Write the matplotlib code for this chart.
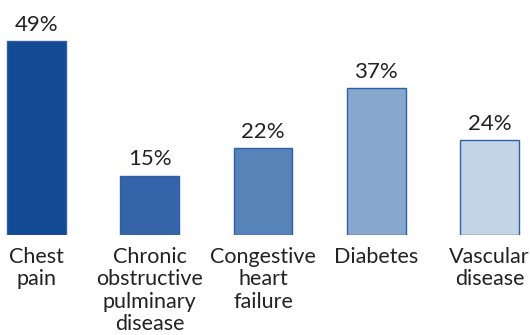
import matplotlib
matplotlib.use("Agg")
import matplotlib.pyplot as plt

categories = ["Chest\npain", "Chronic\nobstructive\npulminary\ndisease",
              "Congestive\nheart\nfailure", "Diabetes", "Vascular\ndisease"]
values = [49, 15, 22, 37, 24]
value_labels = ["49%", "15%", "22%", "37%", "24%"]
bar_colors = ["#124A94", "#3565A8", "#5683B8", "#88A7CE", "#C4D4E7"]

plt.rcParams["font.family"] = ["Lato", "DejaVu Sans"]

W, H = 530, 335
fig = plt.figure(figsize=(W / 100, H / 100), dpi=100)
base_px = 235
ax = fig.add_axes([0, (H - base_px) / H, 1, base_px / H])

px_per_unit = 113.25
x0 = 36.5
ax.set_xlim(-x0 / px_per_unit, (W - x0) / px_per_unit)
ax.set_ylim(0, base_px / 3.96)

xs = list(range(len(values)))
ax.bar(xs, values, width=0.52, color=bar_colors, edgecolor="#2F5FA8", linewidth=1.0)

for x, v, lab in zip(xs, values, value_labels):
    ax.annotate(lab, (x, v), xytext=(0, 4.5), textcoords="offset points",
                ha="center", va="bottom", fontsize=16, color="#222222")

for x, cat in zip(xs, categories):
    ax.annotate(cat, (x, 0), xytext=(0, -8.5), textcoords="offset points",
                ha="center", va="top", fontsize=15.5, color="#222222",
                linespacing=1.16, annotation_clip=False)

ax.axis("off")
fig.savefig("out.png", dpi=100, facecolor="white")
